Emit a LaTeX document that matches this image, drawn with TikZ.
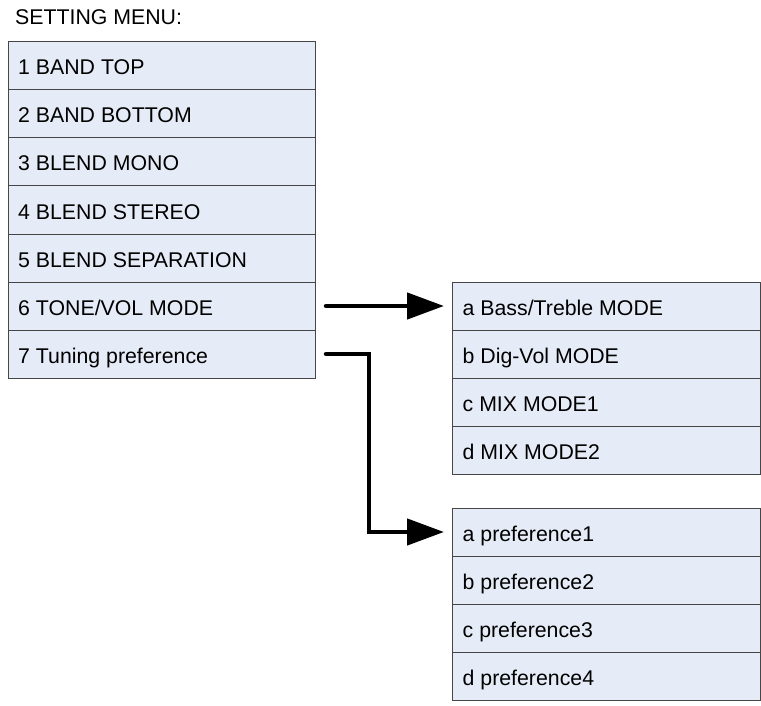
\documentclass[tikz,border=0pt]{standalone}
\usepackage{fontspec}
\setmainfont{Liberation Sans}
\usetikzlibrary{arrows.meta}
\definecolor{cellfill}{RGB}{230,236,247}
\definecolor{cellline}{RGB}{70,70,70}
\begin{document}
\begin{tikzpicture}[x=1pt,y=-1pt,
  every node/.style={font=\fontsize{21.3}{25}\selectfont},
  cell/.style={draw=cellline,line width=1pt,fill=cellfill,minimum height=48pt,
    inner sep=0pt,anchor=north west,outer sep=0pt},
  lcell/.style={cell,minimum width=307pt},
  rcell/.style={cell,minimum width=308pt},
  lbl/.style={anchor=base west,inner sep=0pt},
  conn/.style={line width=4.5pt,line cap=round,-{Triangle[length=37pt,width=26pt]}}]
\useasboundingbox (0,0) rectangle (761,706);
\node[lbl] (title) at (15,25) {SETTING MENU:};
% left menu
\foreach \i/\t in {1/{1 BAND TOP},2/{2 BAND BOTTOM},3/{3 BLEND MONO},4/{4 BLEND STEREO},5/{5 BLEND SEPARATION},6/{6 TONE/VOL MODE},7/{7 Tuning preference}}{
  \node[lcell] (l\i) at (8,{42+48*(\i-1)}) {};
  \node[lbl] (lt\i) at (18,{42+48*(\i-1)+33}) {\t};
}
% tone/vol submenu
\foreach \i/\t in {1/{a Bass/Treble MODE},2/{b Dig-Vol MODE},3/{c MIX MODE1},4/{d MIX MODE2}}{
  \node[rcell] (a\i) at (452,{282+48*(\i-1)}) {};
  \node[lbl] (at\i) at (462.5,{282+48*(\i-1)+33}) {\t};
}
% preference submenu
\foreach \i/\t in {1/{a preference1},2/{b preference2},3/{c preference3},4/{d preference4}}{
  \node[rcell] (p\i) at (452,{508+48.2*(\i-1)}) {};
  \node[lbl] (pt\i) at (462.5,{508+48.2*(\i-1)+33}) {\t};
}
\draw[conn] ([xshift=11pt]l6.east) -- ([xshift=-8pt]a1.west);
\draw[conn] ([xshift=11pt]l7.east) -- ++(43,0) |- ([xshift=-8pt]p1.west);
\end{tikzpicture}
\end{document}
